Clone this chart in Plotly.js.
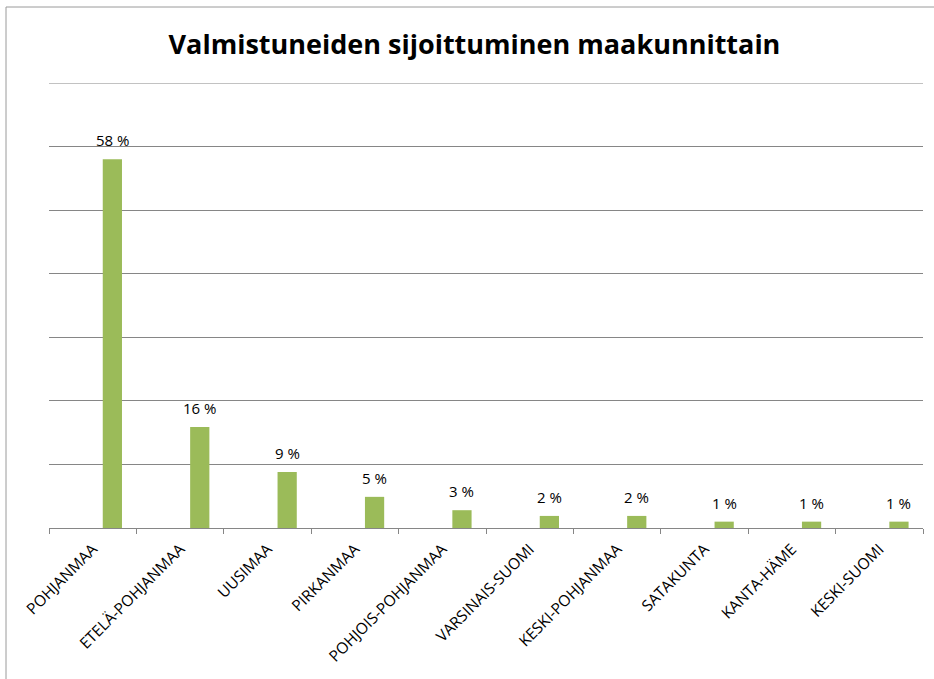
<!DOCTYPE html>
<html>
<head>
<meta charset="utf-8">
<script src="https://cdn.plot.ly/plotly-3.0.1.min.js"></script>
<style>html,body{margin:0;padding:0;background:#fff;}#chart{width:934px;height:679px;}</style>
</head>
<body>
<div id="chart"></div>
<script>
const categories = ["POHJANMAA","ETELÄ-POHJANMAA","UUSIMAA","PIRKANMAA","POHJOIS-POHJANMAA","VARSINAIS-SUOMI","KESKI-POHJANMAA","SATAKUNTA","KANTA-HÄME","KESKI-SUOMI"];
const values = [58, 15.9, 8.8, 4.9, 2.8, 1.9, 1.9, 1.0, 1.0, 1.0];
const labels = ["58 %","16 %","9 %","5 %","3 %","2 %","2 %","1 %","1 %","1 %"];
const titleText = "Valmistuneiden sijoittuminen maakunnittain";

const FONT = "'Open Sans', sans-serif";
const BAR_W = 0.22, BAR_OFF = 0.115;
const trace = {
  type: "bar",
  x: categories,
  y: values,
  marker: {color: "#9BBB59"},
  width: BAR_W,
  offset: BAR_OFF,
  hoverinfo: "skip"
};
const L = 49, R = 11, T = 83, B = 151, W = 934, H = 679;
const pw = W - L - R, ph = H - T - B;
const catPx = pw / categories.length;
const frameY = (ph + T - 7) / ph;
const frameX = (6 - L) / pw;
const annotations = categories.map((c, i) => ({
  x: c, y: values[i], xref: "x", yref: "y",
  text: labels[i], showarrow: false,
  xanchor: "center", yanchor: "bottom",
  xshift: (BAR_OFF + BAR_W / 2) * catPx, yshift: 7,
  font: {family: FONT, size: 15, color: "#000"}
}));
const layout = {
  width: W, height: H,
  margin: {l: L, r: R, t: T, b: B, pad: 0},
  paper_bgcolor: "#fff", plot_bgcolor: "#fff",
  showlegend: false,
  title: {text: "<b>" + titleText + "</b>", font: {family: FONT, size: 27, color: "#000"}, x: 0.508, xanchor: "center", y: 0.935, yanchor: "middle"},
  xaxis: {
    type: "category",
    showline: true, linecolor: "#868686", linewidth: 1,
    ticks: "outside", ticklen: 5, tickcolor: "#868686", tickson: "boundaries",
    tickangle: -45,
    ticklabelshift: 0, ticklabelstandoff: 5,
    tickfont: {family: FONT, size: 15.5, color: "#000"},
    showgrid: false, zeroline: false
  },
  yaxis: {
    range: [0, 70], dtick: 10, tick0: 0,
    showticklabels: false, ticks: "",
    showgrid: true, gridcolor: "#868686", gridwidth: 1,
    zeroline: false, showline: false
  },
  annotations: annotations,
  shapes: [
    {type: "line", xref: "paper", yref: "y", x0: 0, x1: 1, y0: 70, y1: 70, line: {color: "#868686", width: 1}},
    {type: "line", xref: "paper", yref: "paper", x0: frameX, x1: (W + 5 - L) / pw, y0: frameY, y1: frameY, line: {color: "#9a9a9a", width: 1}},
    {type: "line", xref: "paper", yref: "paper", x0: frameX, x1: frameX, y0: frameY, y1: -(B + 5) / ph, line: {color: "#9a9a9a", width: 1}}
  ]
};
Plotly.newPlot("chart", [trace], layout, {displayModeBar: false, staticPlot: true});
</script>
</body>
</html>
